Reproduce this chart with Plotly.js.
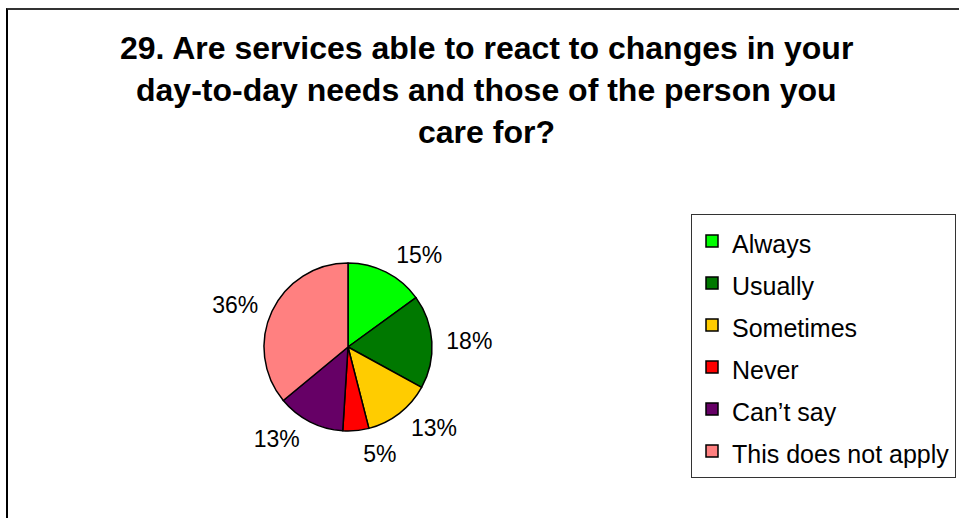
<!DOCTYPE html>
<html>
<head>
<meta charset="utf-8">
<script src="https://cdn.plot.ly/plotly-3.0.1.min.js"></script>
<style>
  html, body { margin: 0; padding: 0; background: #fff; }
  #wrap { position: relative; width: 959px; height: 518px; overflow: hidden; }
  #chart { width: 959px; height: 518px; }
  #frame { position: absolute; left: 6px; top: 8px; width: 1000px; height: 600px;
           border-left: 2px solid #000; border-top: 2px solid #333; pointer-events: none; }
  #chart path.textline { display: none; }
</style>
</head>
<body>
<div id="wrap">
  <div id="chart"></div>
  <div id="frame"></div>
</div>
<script>
const categories = ["Always", "Usually", "Sometimes", "Never", "Can\u2019t say", "This does not apply"];
const values = [15, 18, 13, 5, 13, 36];
const colors = ["#00FF00", "#007800", "#FFCC00", "#FF0000", "#660066", "#FF8080"];
const titleLines = [
  "29. Are services able to react to changes in your",
  "day-to-day needs and those of the person you",
  "care for?"
];

const W = 959, H = 518;
const cx = 348, cy = 347, R = 84, RL = 92;
const FONT = "Liberation Sans, Arial, sans-serif";

function dom(r) {
  return { x: [(cx - r) / W, (cx + r) / W], y: [(H - cy - r) / H, (H - cy + r) / H] };
}

const pieTrace = {
  type: "pie",
  labels: categories.map(c => '<span style="font-size:25px">' + c + '</span>'),
  values: values,
  sort: false,
  direction: "clockwise",
  rotation: 0,
  marker: { colors: colors, line: { color: "#000", width: 1.5 } },
  textinfo: "none",
  hoverinfo: "skip",
  domain: dom(R)
};

const labelTrace = {
  type: "pie",
  labels: categories.map(c => '<span style="font-size:25px">' + c + '</span>'),
  values: values,
  sort: false,
  direction: "clockwise",
  rotation: 0,
  showlegend: false,
  marker: { colors: colors.map(() => "rgba(0,0,0,0)"), line: { width: 0 } },
  textinfo: "percent",
  textposition: "outside",
  texttemplate: "%{percent:.0%}",
  outsidetextfont: { family: FONT, size: 23, color: "#000" },
  hoverinfo: "skip",
  domain: dom(RL)
};

const annotations = titleLines.map((t, i) => ({
  text: "<b>" + t + "</b>",
  xref: "paper", yref: "paper",
  x: 486 / W, y: 1 - (48 + i * 42) / H,
  xanchor: "center", yanchor: "middle",
  showarrow: false,
  font: { family: FONT, size: 32, color: "#000" }
}));

const layout = {
  width: W, height: H,
  margin: { l: 0, r: 0, t: 0, b: 0 },
  paper_bgcolor: "#fff",
  showlegend: true,
  legend: {
    x: 691 / W, y: 1 - 214 / H, xanchor: "left", yanchor: "top",
    bgcolor: "#fff", bordercolor: "#333", borderwidth: 1,
    font: { family: FONT, size: 30, color: "#000" },
    traceorder: "normal"
  },
  annotations: annotations
};

Plotly.newPlot("chart", [pieTrace, labelTrace], layout, { displayModeBar: false, staticPlot: true });
</script>
</body>
</html>
